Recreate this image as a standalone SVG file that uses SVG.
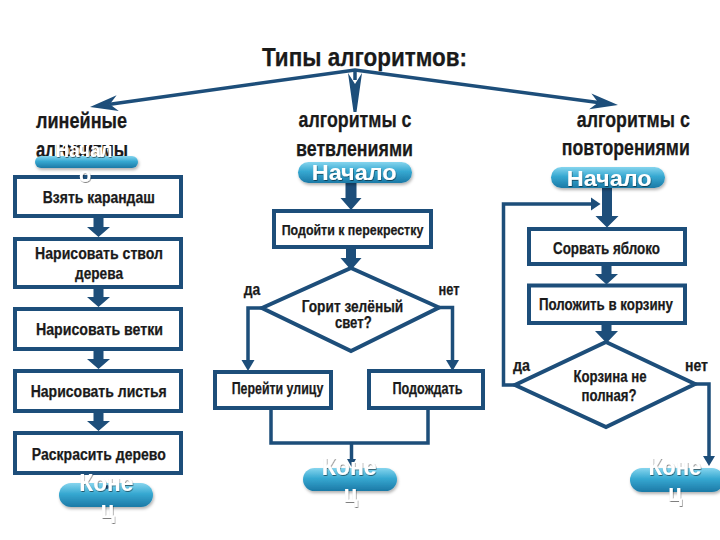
<svg xmlns="http://www.w3.org/2000/svg" width="720" height="540" viewBox="0 0 720 540">
<defs>
<linearGradient id="pg" x1="0" y1="0" x2="0" y2="1">
<stop offset="0" stop-color="#86d5ee"/>
<stop offset="0.45" stop-color="#36a8d1"/>
<stop offset="1" stop-color="#1c79a6"/>
</linearGradient>
<filter id="sh" x="-20%" y="-40%" width="140%" height="190%">
<feDropShadow dx="1" dy="2" stdDeviation="1.5" flood-color="#000" flood-opacity="0.3"/>
</filter>
<filter id="tsh" x="-20%" y="-30%" width="140%" height="160%">
<feDropShadow dx="0.6" dy="1" stdDeviation="0.7" flood-color="#000" flood-opacity="0.5"/>
</filter>
<style>
.box{fill:#fff;stroke:#1d4e7a;stroke-width:4}
.ln{fill:none;stroke:#1d4e7a;stroke-width:3.5;stroke-linejoin:miter}
.ah{fill:#1d4e7a}
.t{font-family:"Liberation Sans Narrow","Liberation Sans",Arial,sans-serif;font-weight:bold;fill:#1a1a1a;stroke:#1a1a1a;stroke-width:0.25}
.c{text-anchor:middle}
.pill{fill:url(#pg);filter:url(#sh)}
.w{font-family:"Liberation Sans",Arial,sans-serif;font-weight:bold;fill:#fff;filter:url(#tsh);text-anchor:middle}
</style>
</defs>
<rect width="720" height="540" fill="#fff"/>

<g id="title">
<text class="t c" x="364.5" y="66" font-size="25" textLength="205" lengthAdjust="spacingAndGlyphs">Типы алгоритмов:</text>
</g>

<g id="headers">
<text class="t" x="36" y="128" font-size="22" textLength="91" lengthAdjust="spacingAndGlyphs">линейные</text>
<text class="t" x="36" y="156.5" font-size="22" textLength="92" lengthAdjust="spacingAndGlyphs">алгоритмы</text>
<text class="t c" x="355" y="127.3" font-size="22" textLength="113" lengthAdjust="spacingAndGlyphs">алгоритмы с</text>
<text class="t c" x="354.5" y="155.5" font-size="22" textLength="117" lengthAdjust="spacingAndGlyphs">ветвлениями</text>
<text class="t c" x="633.3" y="127.3" font-size="22" textLength="113" lengthAdjust="spacingAndGlyphs">алгоритмы с</text>
<text class="t c" x="625.8" y="155" font-size="22" textLength="128" lengthAdjust="spacingAndGlyphs">повторениями</text>
</g>

<g id="connectors">
<polyline class="ln" stroke-width="4" points="110,104.2 355,70 598,102.4"/>
<polygon class="ah" points="90,107 118.8,111 109.8,104.2 116.6,95.2"/>
<polygon class="ah" points="618,105 591.4,93.4 598.2,102.4 589.2,109.2"/>
<line class="ln" x1="355" y1="70" x2="355" y2="80"/>
<polygon class="ah" points="348,73 355,84 362,73 356.5,112 353.5,112"/>

<path class="ah" d="M93.5,217 H103.5 V227 H110 L98.5,237 L87,227 H93.5 Z"/>
<path class="ah" d="M93.5,287 H103.5 V297 H110 L98.5,307 L87,297 H93.5 Z"/>
<path class="ah" d="M93.5,349 H103.5 V359 H110 L98.5,369 L87,359 H93.5 Z"/>
<path class="ah" d="M93.5,411 H103.5 V421 H110 L98.5,431 L87,421 H93.5 Z"/>

<path class="ah" d="M345.5,182 H356.5 V198 H361.5 L351,210 L340.5,198 H345.5 Z"/>
<path class="ah" d="M346,248 H356 V258 H361.5 L351,270 L340.5,258 H346 Z"/>
<polyline class="ln" points="262,308 248,308 248,362"/>
<polygon class="ah" points="241.5,360 254.5,360 248,371"/>
<polyline class="ln" points="439,307.5 452.5,307.5 452.5,362"/>
<polygon class="ah" points="446,360 459,360 452.5,371"/>
<polyline class="ln" stroke-width="3" points="271,409 271,443 428,443 428,409"/>
<line class="ln" stroke-width="2.5" x1="351.5" y1="443" x2="351.5" y2="461"/>
<polygon class="ah" points="347,459 356,459 351.5,467"/>

<path class="ah" d="M602,187 H612 V216 H618.5 L607,227.5 L595.5,216 H602 Z"/>
<path class="ah" d="M601.5,265 H611.5 V274 H618 L606.5,284.5 L595,274 H601.5 Z"/>
<path class="ah" d="M601.5,324 H611.5 V331 H618 L606.5,343 L595,331 H601.5 Z"/>
<polyline class="ln" points="515,385 503.5,385 503.5,204 593,204"/>
<polygon class="ah" points="591,197.5 591,210.5 600.5,204"/>
<polyline class="ln" points="695,384 709,384 709,458"/>
<polygon class="ah" points="703,456 715,456 709,466"/>
</g>

<g id="n-pencil">
<rect class="box" x="15" y="177" width="166" height="39"/>
<text class="t c" x="98.8" y="203" font-size="16" textLength="112" lengthAdjust="spacingAndGlyphs">Взять карандаш</text>
</g>
<g id="start-linear">
<rect class="pill" x="35" y="156" width="103" height="12" rx="6"/>
<text class="w" x="84" y="157" font-size="20" textLength="57" lengthAdjust="spacingAndGlyphs">Начал</text>
<text class="w" x="85" y="181.5" font-size="20">о</text>
</g>
<g id="n-trunk">
<rect class="box" x="15" y="239" width="166" height="48"/>
<text class="t c" x="99" y="258.5" font-size="16" textLength="128" lengthAdjust="spacingAndGlyphs">Нарисовать ствол</text>
<text class="t c" x="99" y="279" font-size="16" textLength="48" lengthAdjust="spacingAndGlyphs">дерева</text>
</g>
<g id="n-branches">
<rect class="box" x="15" y="309" width="166" height="40"/>
<text class="t c" x="99.5" y="335" font-size="16" textLength="127" lengthAdjust="spacingAndGlyphs">Нарисовать ветки</text>
</g>
<g id="n-leaves">
<rect class="box" x="15" y="371" width="166" height="40"/>
<text class="t c" x="98.7" y="397" font-size="16" textLength="136" lengthAdjust="spacingAndGlyphs">Нарисовать листья</text>
</g>
<g id="n-paint">
<rect class="box" x="15" y="433" width="166" height="40"/>
<text class="t c" x="98.8" y="459.5" font-size="16" textLength="134" lengthAdjust="spacingAndGlyphs">Раскрасить дерево</text>
</g>
<g id="end-linear">
<rect class="pill" x="59" y="483" width="94" height="24" rx="12"/>
<circle cx="107" cy="487" r="2" fill="#1d4e7a"/>
<text class="w" x="106.3" y="490.7" font-size="23" textLength="54" lengthAdjust="spacingAndGlyphs">Коне</text>
<text class="w" x="107.5" y="517.5" font-size="23">ц</text>
</g>

<g id="start-branch">
<rect class="pill" x="298" y="162" width="114" height="21" rx="10.5"/>
<text class="w" x="354.2" y="180" font-size="22" textLength="85" lengthAdjust="spacingAndGlyphs">Начало</text>
</g>
<g id="n-approach">
<rect class="box" x="274" y="211" width="157" height="36"/>
<text class="t c" x="352.5" y="235" font-size="15.5" textLength="141.6" lengthAdjust="spacingAndGlyphs">Подойти к перекрестку</text>
</g>
<g id="d-green">
<polygon class="box" points="351,268 439,307.5 351,351 262,308"/>
<text class="t c" x="352.5" y="311.7" font-size="16" textLength="101.6" lengthAdjust="spacingAndGlyphs">Горит зелёный</text>
<text class="t c" x="353.3" y="328.3" font-size="16" textLength="36.7" lengthAdjust="spacingAndGlyphs">свет?</text>
<text class="t c" x="252" y="295" font-size="16" textLength="16.5" lengthAdjust="spacingAndGlyphs">да</text>
<text class="t c" x="449" y="295" font-size="16" textLength="21" lengthAdjust="spacingAndGlyphs">нет</text>
</g>
<g id="n-cross">
<rect class="box" x="215" y="372" width="116" height="36"/>
<text class="t c" x="277.5" y="394" font-size="16" textLength="91.6" lengthAdjust="spacingAndGlyphs">Перейти улицу</text>
</g>
<g id="n-wait">
<rect class="box" x="369" y="371" width="114" height="37"/>
<text class="t c" x="427.5" y="394" font-size="16" textLength="70" lengthAdjust="spacingAndGlyphs">Подождать</text>
</g>
<g id="end-branch">
<rect class="pill" x="303" y="468" width="94" height="23" rx="11.5"/>
<text class="w" x="349.2" y="475" font-size="23" textLength="55" lengthAdjust="spacingAndGlyphs">Коне</text>
<text class="w" x="350.5" y="501.7" font-size="23">ц</text>
</g>

<g id="start-loop">
<rect class="pill" x="551" y="167" width="114" height="21" rx="10.5"/>
<text class="w" x="609.2" y="185.5" font-size="22" textLength="85" lengthAdjust="spacingAndGlyphs">Начало</text>
</g>
<g id="n-pick">
<rect class="box" x="529" y="229" width="156" height="35"/>
<text class="t c" x="606.5" y="253.5" font-size="16" textLength="107" lengthAdjust="spacingAndGlyphs">Сорвать яблоко</text>
</g>
<g id="n-put">
<rect class="box" x="529" y="285.5" width="156" height="37.5"/>
<text class="t c" x="606" y="309.5" font-size="16" textLength="134" lengthAdjust="spacingAndGlyphs">Положить в корзину</text>
</g>
<g id="d-basket">
<polygon class="box" points="606,342 695,384 606,427 515,385"/>
<text class="t c" x="610" y="381.7" font-size="16" textLength="73" lengthAdjust="spacingAndGlyphs">Корзина не</text>
<text class="t c" x="609" y="400.7" font-size="16" textLength="55" lengthAdjust="spacingAndGlyphs">полная?</text>
<text class="t c" x="521.5" y="370.7" font-size="16" textLength="17" lengthAdjust="spacingAndGlyphs">да</text>
<text class="t c" x="696.5" y="370.7" font-size="16" textLength="23" lengthAdjust="spacingAndGlyphs">нет</text>
</g>
<g id="end-loop">
<rect class="pill" x="630" y="468" width="94" height="24" rx="12"/>
<text class="w" x="675" y="475" font-size="23" textLength="53" lengthAdjust="spacingAndGlyphs">Коне</text>
<text class="w" x="675" y="501" font-size="23">ц</text>
</g>
</svg>
